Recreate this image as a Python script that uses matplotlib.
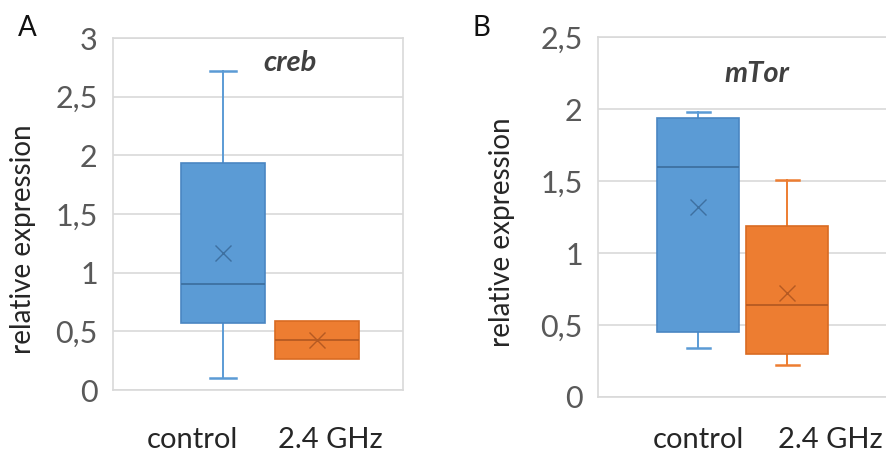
import matplotlib
matplotlib.use("Agg")
import matplotlib.pyplot as plt
from matplotlib.ticker import FuncFormatter

plt.rcParams["font.family"] = ["Lato", "DejaVu Sans"]

groups = ["control", "2.4 GHz"]

# panel A: creb
creb_low = [0.10, 0.26]
creb_q1 = [0.57, 0.26]
creb_med = [0.90, 0.43]
creb_q3 = [1.935, 0.59]
creb_high = [2.72, 0.59]
creb_mean = [1.17, 0.43]
creb_ticks = [0, 0.5, 1, 1.5, 2, 2.5, 3]

# panel B: mTor
mtor_low = [0.34, 0.22]
mtor_q1 = [0.45, 0.30]
mtor_med = [1.60, 0.64]
mtor_q3 = [1.94, 1.19]
mtor_high = [1.98, 1.51]
mtor_mean = [1.32, 0.72]
mtor_ticks = [0, 0.5, 1, 1.5, 2, 2.5]

fills = ["#5B9BD5", "#ED7D31"]
edges = ["#4A86C2", "#D96B22"]
darks = ["#3E70A0", "#B55A22"]
grid_c = "#D9D9D9"


def comma(v, _pos):
    return f"{v:g}".replace(".", ",")


def draw_panel(ax, low, q1, med, q3, high, mean, ticks, width, capw,
               title, title_xy, label_x, label_dy, xlim):
    stats = []
    for i in range(len(groups)):
        stats.append(dict(whislo=low[i], q1=q1[i], med=med[i], q3=q3[i],
                          whishi=high[i], mean=mean[i], fliers=[], label=groups[i]))
    bp = ax.bxp(stats, positions=[0, 1], widths=width, capwidths=capw,
                patch_artist=True, showmeans=True, manage_ticks=False,
                meanprops=dict(marker="x", markersize=11, markeredgewidth=1.0))
    for i in range(len(groups)):
        bp["boxes"][i].set(facecolor=fills[i], edgecolor=edges[i], linewidth=1.2, zorder=3)
        bp["medians"][i].set(color=darks[i], linewidth=1.3, zorder=4)
        bp["means"][i].set(markeredgecolor=darks[i], zorder=5)
        for w in bp["whiskers"][2 * i:2 * i + 2]:
            w.set(color=fills[i], linewidth=1.4, zorder=2)
        for c in bp["caps"][2 * i:2 * i + 2]:
            c.set(color=fills[i], linewidth=1.8, zorder=2)
            if low[i] == q1[i] and high[i] == q3[i]:
                c.set_visible(False)

    ax.set_xlim(*xlim)
    ax.set_ylim(ticks[0], ticks[-1])
    ax.set_yticks(ticks)
    ax.yaxis.set_major_formatter(FuncFormatter(comma))
    ax.set_xticks([])
    ax.tick_params(axis="y", length=0, pad=11, labelsize=22, labelcolor="#595959")
    ax.grid(axis="y", color=grid_c, linewidth=1.2, zorder=0)
    ax.set_axisbelow(True)
    for s in ax.spines.values():
        s.set_color(grid_c)
        s.set_linewidth(1.2)

    ax.text(title_xy[0], title_xy[1], title, transform=ax.transData,
            ha="center", va="center", fontsize=21, fontweight="bold",
            fontstyle="italic", color="#404040")
    for i in range(len(groups)):
        ax.annotate(groups[i], xy=(label_x[i], 0), xycoords=("data", "axes fraction"),
                    xytext=(0, -label_dy), textcoords="offset points",
                    ha="center", va="center", fontsize=21, color="#262626",
                    annotation_clip=False)


fig = plt.figure(figsize=(8.87, 4.53), dpi=100)

ax_a = fig.add_axes([113 / 887, 1 - 390 / 453, 290 / 887, 352 / 453])
draw_panel(ax_a, creb_low, creb_q1, creb_med, creb_q3, creb_high, creb_mean,
           creb_ticks, 0.9, 0.27, "creb", (0.71, 2.79),
           [-0.33, 1.14], 36, (-1.17, 1.915))

ax_b = fig.add_axes([598 / 887, 1 - 397 / 453, 289 / 887, 360 / 453])
draw_panel(ax_b, mtor_low, mtor_q1, mtor_med, mtor_q3, mtor_high, mtor_mean,
           mtor_ticks, 0.92, 0.26, "mTor", (0.66, 2.24),
           [0.0, 1.48], 31, (-1.124, 2.12))

fig.text(23 / 887, 1 - 239 / 453, "relative expression", rotation=90,
         ha="center", va="center", fontsize=20, color="#262626")
fig.text(502 / 887, 1 - 232 / 453, "relative expression", rotation=90,
         ha="center", va="center", fontsize=20, color="#262626")
fig.text(27 / 887, 1 - 28 / 453, "A", ha="center", va="center", fontsize=20, color="#111111")
fig.text(481 / 887, 1 - 28 / 453, "B", ha="center", va="center", fontsize=20, color="#111111")

fig.savefig("out.png", dpi=100)
